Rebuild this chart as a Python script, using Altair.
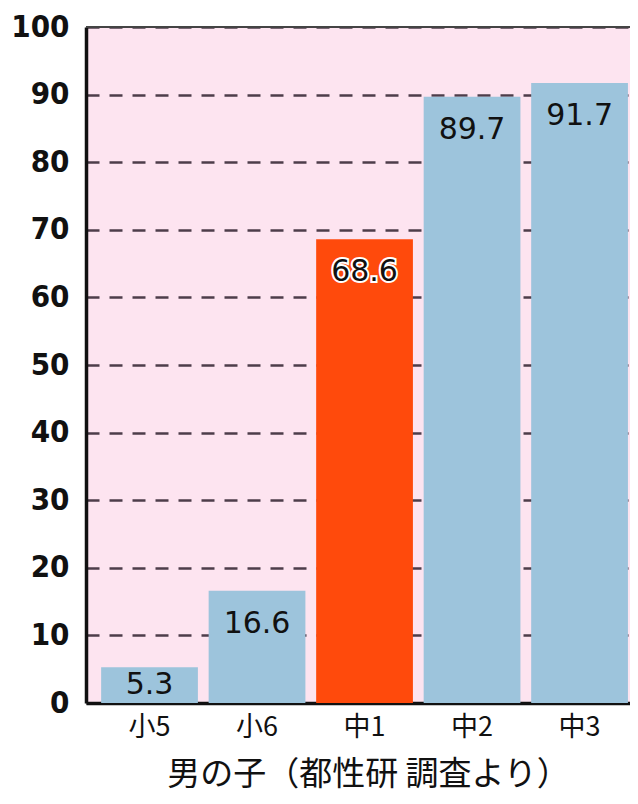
import altair as alt
import pandas as pd

grades = ["小5", "小6", "中1", "中2", "中3"]
values = [5.3, 16.6, 68.6, 89.7, 91.7]
highlight = ["中1"]
y_ticks = [0, 10, 20, 30, 40, 50, 60, 70, 80, 90, 100]
title_text = "男の子（都性研 調査より）"

df = pd.DataFrame({"grade": grades, "value": values})
df["hl"] = df["grade"].isin(highlight)

x_enc = alt.X(
    "grade:N",
    sort=grades,
    scale=alt.Scale(paddingInner=0.1, paddingOuter=0.08, align=0.88),
    axis=alt.Axis(
        title=title_text,
        titleFont="Noto Sans CJK JP",
        titleFontSize=33,
        titleFontWeight="normal",
        titleColor="#111111",
        titlePadding=18,
        titleX=282,
        labelFont="Noto Sans CJK JP",
        labelFontSize=27,
        labelColor="#111111",
        labelPadding=11,
        labelAngle=0,
        ticks=False,
        domainColor="#111111",
        domainWidth=3.5,
    ),
)

y_scale = alt.Scale(domain=[0, 100], nice=False)

base = alt.Chart(df)

bars = base.mark_bar().encode(
    x=x_enc,
    y=alt.Y(
        "value:Q",
        scale=y_scale,
        axis=alt.Axis(
            values=y_ticks,
            title=None,
            labelFont="DejaVu Sans Condensed",
            labelFontWeight="bold",
            labelFontSize=31,
            labelColor="#111111",
            labelPadding=17,
            ticks=False,
            domainColor="#111111",
            domainWidth=3.5,
            grid=True,
            gridColor="#4d3d4a",
            gridDash=[13, 10],
            gridWidth=2.5,
        ),
    ),
    color=alt.condition(
        alt.datum.hl, alt.value("#ff4a0c"), alt.value("#9dc4dc")
    ),
)

label_base = base.transform_calculate(
    ly="max(datum.value - 4.9, datum.value / 2)"
).encode(
    x=alt.X("grade:N", sort=grades),
    y=alt.Y("ly:Q", scale=y_scale),
    text=alt.Text("value:Q", format=".1f"),
)

halo = label_base.transform_filter(alt.datum.hl).mark_text(
    font="DejaVu Sans",
    fontSize=30,
    baseline="middle",
    stroke="white",
    strokeWidth=4,
    fill="white",
)

labels = label_base.mark_text(
    font="DejaVu Sans",
    fontSize=30,
    baseline="middle",
    color="#111111",
)

top_line = alt.Chart(df).mark_rule(color="#444444", strokeWidth=2).encode(
    y=alt.datum(100)
)

chart = (
    alt.layer(bars, top_line, halo, labels)
    .properties(
        width=544,
        height=676,
        padding={"left": 78, "top": 19, "right": 0, "bottom": 93},
        autosize=alt.AutoSizeParams(type="none"),
        background="white",
    )
    .configure_view(fill="#fde4f0", stroke=None)
)

chart.save("out.html", embed_options={"renderer": "svg", "actions": False})
